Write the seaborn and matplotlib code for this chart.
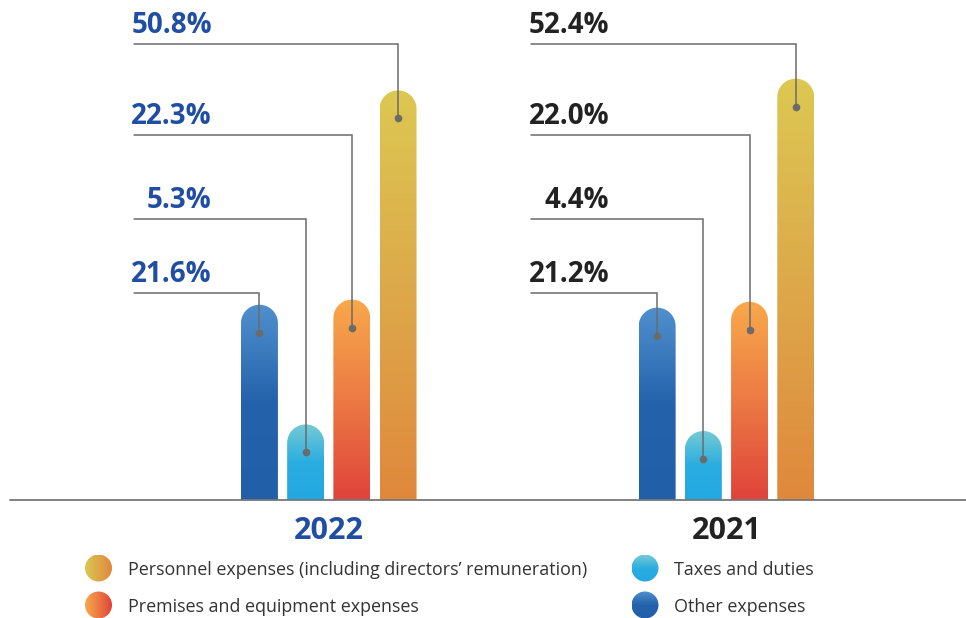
import numpy as np
import pandas as pd
import matplotlib
matplotlib.use("Agg")
import matplotlib.pyplot as plt
import seaborn as sns
from matplotlib.colors import LinearSegmentedColormap
from matplotlib.path import Path
from matplotlib.patches import PathPatch, Ellipse

# ── Data ───────────────────────────────────────────────────────────────────────

years = ["2022", "2021"]
categories = [
    "Other expenses",
    "Taxes and duties",
    "Premises and equipment expenses",
    "Personnel expenses (including directors’ remuneration)",
]
share_2022 = [21.6, 5.3, 22.3, 50.8]
share_2021 = [21.2, 4.4, 22.0, 52.4]

df = pd.DataFrame({
    "year": np.repeat(years, len(categories)),
    "category": categories * 2,
    "share": share_2022 + share_2021,
})

# gradient stops (top -> bottom) for each category
gradients = {
    "Other expenses": ["#5190ce", "#2463ab", "#2160a9"],
    "Taxes and duties": ["#76cad5", "#2aade0", "#22a8e2"],
    "Premises and equipment expenses": ["#f8a94b", "#ec7a44", "#df433a"],
    "Personnel expenses (including directors’ remuneration)": ["#dcc852", "#dda84a", "#e0883c"],
}
label_colors = ["#1f4ea3", "#222222"]

# ── Layout (pixel based) ───────────────────────────────────────────────────────

sns.set_theme(style="white")
plt.rcParams["font.family"] = ["Open Sans", "DejaVu Sans"]

BASE_PX, FLOOR = 500, -5.0        # baseline pixel row, bars start a bit below 0
PX_PER_Y, PX_PER_X, X0_PX = 7.34, 397.7, 328.75
GROUP_W = 0.4647
ROW_PX = [292.5, 219, 135, 44]    # leader line rows for each category
LINE_START = -195 / PX_PER_X
TEXT_RIGHT = -117 / PX_PER_X
LINE_COLOR = "#6b6b6b"


def x_of(px):
    return (px - X0_PX) / PX_PER_X


def y_of(py):
    return FLOOR + (BASE_PX - py) / PX_PER_Y


def rounded_bar(x0, w, top, bottom):
    r = w / 2
    ry = r * PX_PER_X / PX_PER_Y
    t = np.linspace(np.pi, 0, 50)
    arc = np.column_stack([x0 + r + r * np.cos(t), top - ry + ry * np.sin(t)])
    verts = np.vstack([[x0, bottom], arc, [x0 + w, bottom], [x0, bottom]])
    return Path(verts, closed=True)


fig = plt.figure(figsize=(9.66, 6.18), dpi=100)
ax = fig.add_axes([0, 0, 1, 1])

sns.barplot(data=df, x="year", y="share", hue="category", order=years,
            hue_order=categories, width=GROUP_W, gap=0.2, legend=False, ax=ax)

step = GROUP_W / len(categories)
for p in list(ax.patches):
    w, h = p.get_width(), p.get_height()
    if w == 0 or np.isnan(h):
        continue
    x0 = p.get_x()
    cx = x0 + w / 2
    gi = int(round(cx))
    ci = int(round((cx - gi) / step + 1.5))
    p.set_visible(False)

    # gradient bar with round top
    cmap = LinearSegmentedColormap.from_list("g", gradients[categories[ci]])
    clip = PathPatch(rounded_bar(x0, w, h, FLOOR), transform=ax.transData,
                     facecolor="none", edgecolor="none")
    ax.add_patch(clip)
    im = ax.imshow(np.linspace(0, 1, 256).reshape(-1, 1), cmap=cmap, aspect="auto",
                   extent=[x0, x0 + w, FLOOR, h], origin="upper", zorder=2)
    im.set_clip_path(clip)

    # leader line + dot + label
    line_y = y_of(ROW_PX[ci])
    dot_y = h - 28 / PX_PER_Y
    ax.plot([gi + LINE_START, cx, cx], [line_y, line_y, dot_y], color=LINE_COLOR,
            lw=1.1, zorder=3, solid_joinstyle="miter")
    ax.plot(cx, dot_y, "o", ms=4.5, color=LINE_COLOR, zorder=4)
    ax.text(gi + TEXT_RIGHT, line_y + 11 / PX_PER_Y, f"{h:.1f}%", ha="right",
            va="baseline", fontsize=20, fontweight="bold", color=label_colors[gi])

# baseline
ax.plot([x_of(10), x_of(966)], [FLOOR, FLOOR], color="#777777", lw=1.3, zorder=5)

# year labels
for gi, yr in enumerate(years):
    ax.text(gi, y_of(531), yr, ha="center", va="center", fontsize=22,
            fontweight="bold", color=label_colors[gi])

# legend (gradient circles)
legend_items = [
    (3, 98.5, 568, "h"),
    (2, 98.5, 605, "h"),
    (1, 645, 568, "v"),
    (0, 645, 605, "v"),
]
for ci, lx, ly, direction in legend_items:
    cx, cy = x_of(lx), y_of(ly)
    rw, rh = 27 / PX_PER_X, 27 / PX_PER_Y
    circ = Ellipse((cx, cy), rw, rh, transform=ax.transData,
                   facecolor="none", edgecolor="none")
    ax.add_patch(circ)
    grad = np.linspace(0, 1, 256)
    grad = grad.reshape(1, -1) if direction == "h" else grad.reshape(-1, 1)
    cmap = LinearSegmentedColormap.from_list("g", gradients[categories[ci]])
    im = ax.imshow(grad, cmap=cmap, aspect="auto", origin="upper", zorder=2,
                   extent=[cx - rw / 2, cx + rw / 2, cy - rh / 2, cy + rh / 2])
    im.set_clip_path(circ)
    ax.text(x_of(lx + 29), y_of(ly + 2), categories[ci], ha="left", va="center",
            fontsize=12.9, color="#333333")

ax.set_xlim(x_of(0), x_of(966))
ax.set_ylim(y_of(618), y_of(0))
ax.axis("off")

plt.savefig("out.png", dpi=100)
plt.close()
